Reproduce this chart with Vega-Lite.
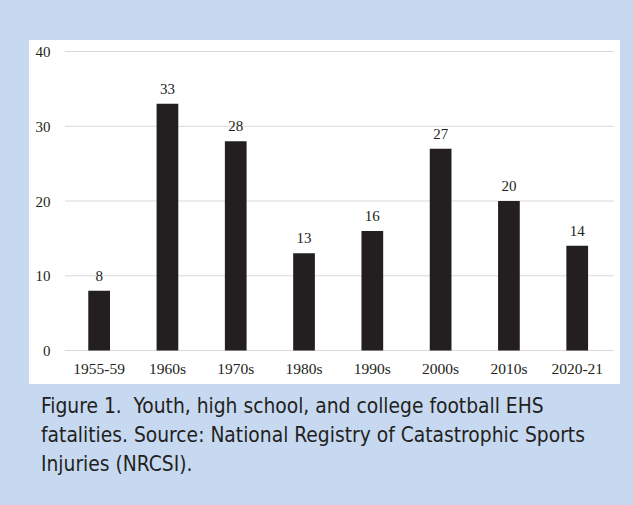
{
  "$schema": "https://vega.github.io/schema/vega-lite/v6.json",
  "width": 591,
  "height": 344,
  "padding": {"left": 29, "top": 40, "right": 13, "bottom": 30},
  "background": "#c6d9f1",
  "config": {
    "view": {"fill": "white", "stroke": null},
    "font": "Liberation Serif"
  },
  "title": {
    "text": [
      "Figure 1.\u00a0 Youth, high school, and college football EHS",
      "fatalities. Source: National Registry of Catastrophic Sports",
      "Injuries (NRCSI)."
    ],
    "orient": "bottom",
    "anchor": "start",
    "frame": "group",
    "dx": 12,
    "offset": 13,
    "font": "DejaVu Sans Condensed, Liberation Sans Narrow, Roboto Condensed, Liberation Sans",
    "fontSize": 20.8,
    "fontWeight": "normal",
    "lineHeight": 29,
    "color": "#231f20"
  },
  "data": {
    "values": [
      {"period": "1955-59", "deaths": 8},
      {"period": "1960s", "deaths": 33},
      {"period": "1970s", "deaths": 28},
      {"period": "1980s", "deaths": 13},
      {"period": "1990s", "deaths": 16},
      {"period": "2000s", "deaths": 27},
      {"period": "2010s", "deaths": 20},
      {"period": "2020-21", "deaths": 14}
    ]
  },
  "layer": [
    {
      "data": {"values": [{"tick": 0}, {"tick": 10}, {"tick": 20}, {"tick": 30}, {"tick": 40}]},
      "mark": {"type": "rule", "color": "#d9d9d9", "strokeWidth": 1},
      "encoding": {
        "y": {"field": "tick", "type": "quantitative"},
        "x": {"datum": "1955-59", "type": "nominal", "bandPosition": -1.074},
        "x2": {"datum": "2020-21", "bandPosition": 2.19}
      }
    },
    {
      "mark": {"type": "bar", "color": "#231f20"},
      "encoding": {
        "x": {
          "field": "period",
          "type": "nominal",
          "sort": null,
          "scale": {
            "domain": ["1955-59", "1960s", "1970s", "1980s", "1990s", "2000s", "2010s", "2020-21"],
            "paddingInner": 0.682,
            "paddingOuter": 0.6676,
            "align": 0.65
          },
          "axis": {
            "title": null,
            "domain": false,
            "ticks": false,
            "tickSize": 0,
            "bandPosition": 0.5,
            "labelPadding": 0,
            "offset": -23,
            "labelAngle": 0,
            "labelAlign": "center",
            "labelBaseline": "top",
            "labelFont": "Liberation Serif",
            "labelFontSize": 15.5,
            "labelColor": "#231f20"
          }
        },
        "y": {
          "field": "deaths",
          "type": "quantitative",
          "scale": {"domain": [-4.48, 41.54], "nice": false, "zero": false},
          "axis": {
            "title": null,
            "values": [0, 10, 20, 30, 40],
            "grid": false,
            "domain": false,
            "ticks": false,
            "tickSize": 0,
            "labelPadding": 0,
            "offset": -21,
            "labelFont": "Liberation Serif",
            "labelFontSize": 15,
            "labelColor": "#231f20"
          }
        },
        "y2": {"datum": 0}
      }
    },
    {
      "mark": {"type": "text", "baseline": "alphabetic", "dy": -10, "fontSize": 15, "font": "Liberation Serif", "color": "#231f20"},
      "encoding": {
        "x": {"field": "period", "type": "nominal", "sort": null},
        "y": {"field": "deaths", "type": "quantitative"},
        "text": {"field": "deaths", "type": "quantitative"}
      }
    }
  ]
}
